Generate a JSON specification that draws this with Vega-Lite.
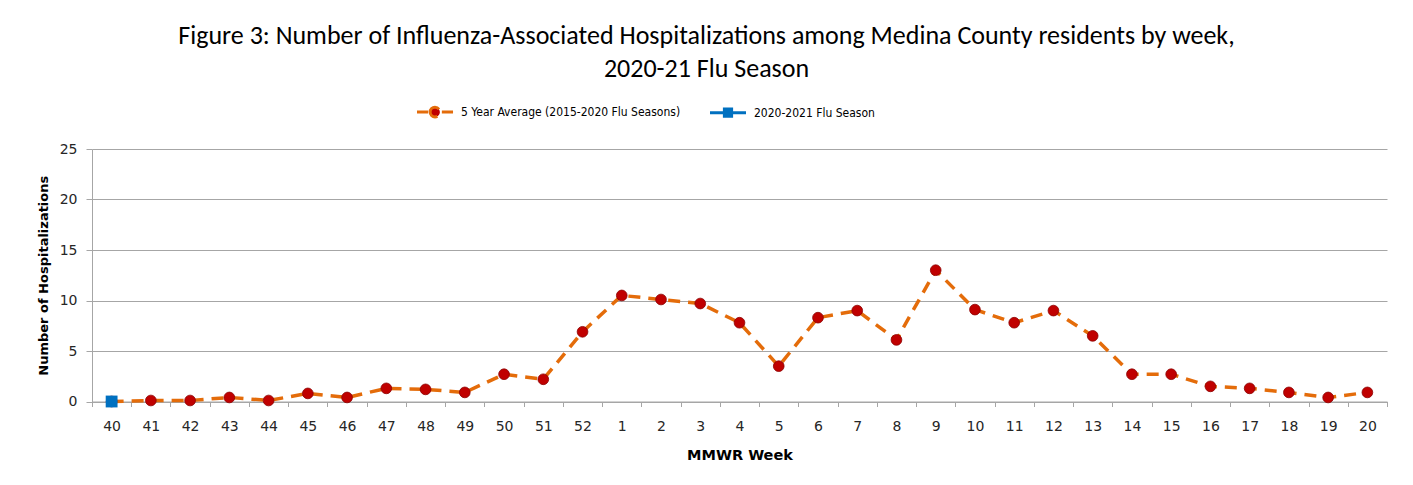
{
  "$schema": "https://vega.github.io/schema/vega-lite/v6.json",
  "autosize": {"type": "none"},
  "width": 1295,
  "height": 252.5,
  "padding": {"left": 92, "top": 149, "right": 26, "bottom": 83.5},
  "background": "white",
  "title": {
    "text": ["Figure 3: Number of Influenza-Associated Hospitalizations among Medina County residents by week,", "2020-21 Flu Season"],
    "font": "Carlito, Calibri, Lato",
    "fontSize": 26,
    "fontWeight": "normal",
    "color": "#000000",
    "anchor": "middle",
    "baseline": "alphabetic",
    "dx": -33,
    "offset": -11,
    "lineHeight": 33
  },
  "data": {
    "values": [
      {"week": "40", "series": "5 Year Average (2015-2020 Flu Seasons)", "value": 0.0},
      {"week": "41", "series": "5 Year Average (2015-2020 Flu Seasons)", "value": 0.1},
      {"week": "42", "series": "5 Year Average (2015-2020 Flu Seasons)", "value": 0.1},
      {"week": "43", "series": "5 Year Average (2015-2020 Flu Seasons)", "value": 0.4},
      {"week": "44", "series": "5 Year Average (2015-2020 Flu Seasons)", "value": 0.1},
      {"week": "45", "series": "5 Year Average (2015-2020 Flu Seasons)", "value": 0.8},
      {"week": "46", "series": "5 Year Average (2015-2020 Flu Seasons)", "value": 0.4},
      {"week": "47", "series": "5 Year Average (2015-2020 Flu Seasons)", "value": 1.3},
      {"week": "48", "series": "5 Year Average (2015-2020 Flu Seasons)", "value": 1.2},
      {"week": "49", "series": "5 Year Average (2015-2020 Flu Seasons)", "value": 0.9},
      {"week": "50", "series": "5 Year Average (2015-2020 Flu Seasons)", "value": 2.7},
      {"week": "51", "series": "5 Year Average (2015-2020 Flu Seasons)", "value": 2.2},
      {"week": "52", "series": "5 Year Average (2015-2020 Flu Seasons)", "value": 6.9},
      {"week": "1", "series": "5 Year Average (2015-2020 Flu Seasons)", "value": 10.5},
      {"week": "2", "series": "5 Year Average (2015-2020 Flu Seasons)", "value": 10.1},
      {"week": "3", "series": "5 Year Average (2015-2020 Flu Seasons)", "value": 9.7},
      {"week": "4", "series": "5 Year Average (2015-2020 Flu Seasons)", "value": 7.8},
      {"week": "5", "series": "5 Year Average (2015-2020 Flu Seasons)", "value": 3.5},
      {"week": "6", "series": "5 Year Average (2015-2020 Flu Seasons)", "value": 8.3},
      {"week": "7", "series": "5 Year Average (2015-2020 Flu Seasons)", "value": 9.0},
      {"week": "8", "series": "5 Year Average (2015-2020 Flu Seasons)", "value": 6.1},
      {"week": "9", "series": "5 Year Average (2015-2020 Flu Seasons)", "value": 13.0},
      {"week": "10", "series": "5 Year Average (2015-2020 Flu Seasons)", "value": 9.1},
      {"week": "11", "series": "5 Year Average (2015-2020 Flu Seasons)", "value": 7.8},
      {"week": "12", "series": "5 Year Average (2015-2020 Flu Seasons)", "value": 9.0},
      {"week": "13", "series": "5 Year Average (2015-2020 Flu Seasons)", "value": 6.5},
      {"week": "14", "series": "5 Year Average (2015-2020 Flu Seasons)", "value": 2.7},
      {"week": "15", "series": "5 Year Average (2015-2020 Flu Seasons)", "value": 2.7},
      {"week": "16", "series": "5 Year Average (2015-2020 Flu Seasons)", "value": 1.5},
      {"week": "17", "series": "5 Year Average (2015-2020 Flu Seasons)", "value": 1.3},
      {"week": "18", "series": "5 Year Average (2015-2020 Flu Seasons)", "value": 0.9},
      {"week": "19", "series": "5 Year Average (2015-2020 Flu Seasons)", "value": 0.4},
      {"week": "20", "series": "5 Year Average (2015-2020 Flu Seasons)", "value": 0.9},
      {"week": "40", "series": "2020-2021 Flu Season", "value": 0}
    ]
  },
  "encoding": {
    "x": {
      "field": "week",
      "type": "ordinal",
      "sort": ["40","41","42","43","44","45","46","47","48","49","50","51","52","1","2","3","4","5","6","7","8","9","10","11","12","13","14","15","16","17","18","19","20"],
      "scale": {"paddingInner": 0, "paddingOuter": 0},
      "axis": {
        "title": "MMWR Week",
        "labelAngle": 0,
        "tickBand": "extent",
        "grid": false,
        "domainColor": "#a6a6a6",
        "tickColor": "#a6a6a6",
        "tickSize": 5,
        "labelPadding": 13,
        "titlePadding": 15,
        "labelFont": "Tahoma, DejaVu Sans",
        "labelFontSize": 14,
        "labelColor": "#262626",
        "titleFont": "Tahoma, DejaVu Sans",
        "titleFontSize": 14.5,
        "titleFontWeight": "bold",
        "titleColor": "#000000"
      }
    },
    "y": {
      "field": "value",
      "type": "quantitative",
      "scale": {"domain": [0, 25], "nice": false},
      "axis": {
        "title": "Number of Hospitalizations",
        "values": [0, 5, 10, 15, 20, 25],
        "grid": true,
        "gridColor": "#a6a6a6",
        "gridWidth": 1,
        "domainColor": "#a6a6a6",
        "tickColor": "#a6a6a6",
        "tickSize": 6,
        "labelPadding": 9,
        "titlePadding": 9,
        "labelFont": "Tahoma, DejaVu Sans",
        "labelFontSize": 14,
        "labelColor": "#262626",
        "titleFont": "Tahoma, DejaVu Sans",
        "titleFontSize": 13,
        "titleFontWeight": "bold",
        "titleColor": "#000000"
      }
    }
  },
  "layer": [
    {
      "mark": {"type": "line", "strokeWidth": 3.5, "strokeCap": "butt"},
      "encoding": {
        "color": {
          "field": "series",
          "type": "nominal",
          "scale": {
            "domain": ["5 Year Average (2015-2020 Flu Seasons)", "2020-2021 Flu Season"],
            "range": ["#E46C0A", "#0070C0"]
          },
          "legend": {
            "title": null,
            "orient": "none",
            "legendX": 323,
            "legendY": -57,
            "direction": "horizontal",
            "columnPadding": 22,
            "labelFont": "Tahoma, DejaVu Sans Condensed, Liberation Sans",
            "labelFontSize": 12,
            "labelColor": "#000000",
            "labelLimit": 0,
            "symbolType": "M-1,0H-0.38M0.38,0H1M-0.27,0A0.27,0.27 0 1,1 0.27,0A0.27,0.27 0 1,1 -0.27,0Z",
            "symbolSize": 1300,
            "symbolStrokeWidth": 3,
            "labelOffset": 6,
            "encode": {
              "symbols": {
                "update": {
                  "shape": {"signal": "datum.value === '2020-2021 Flu Season' ? 'M-1,0H1M-0.2,-0.2H0.2V0.2H-0.2Z' : 'M-1,0H-0.38M0.38,0H1M-0.27,0A0.27,0.27 0 1,1 0.27,0A0.27,0.27 0 1,1 -0.27,0Z'"},
                  "fill": {"signal": "datum.value === '2020-2021 Flu Season' ? '#0070C0' : '#C00000'"},
                  "strokeWidth": {"value": 3}
                }
              }
            }
          }
        },
        "strokeDash": {
          "field": "series",
          "type": "nominal",
          "scale": {
            "domain": ["5 Year Average (2015-2020 Flu Seasons)", "2020-2021 Flu Season"],
            "range": [[12, 8], [1, 0]]
          },
          "legend": null
        }
      }
    },
    {
      "transform": [{"filter": "datum.series === '5 Year Average (2015-2020 Flu Seasons)'"}],
      "mark": {"type": "point", "shape": "circle", "filled": true, "opacity": 1, "fill": "#C00000", "stroke": "#8B0000", "strokeWidth": 0.8, "size": 115}
    },
    {
      "transform": [{"filter": "datum.series === '2020-2021 Flu Season'"}],
      "mark": {"type": "point", "shape": "square", "filled": true, "opacity": 1, "fill": "#0070C0", "size": 140}
    }
  ],
  "config": {
    "view": {"stroke": null},
    "axis": {"domainWidth": 1, "tickWidth": 1}
  }
}
